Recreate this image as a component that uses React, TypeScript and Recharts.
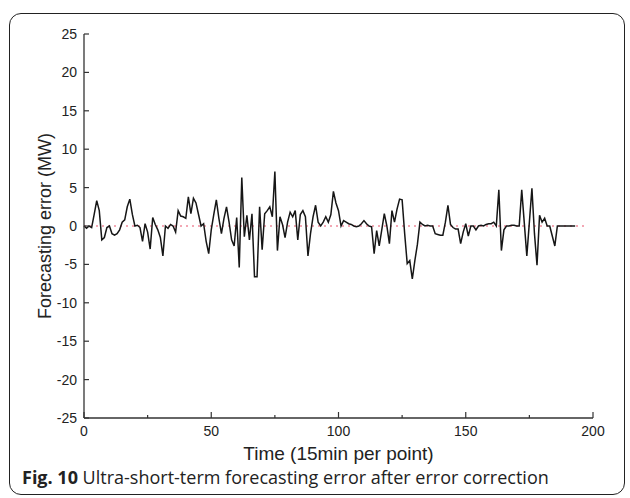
import React from "react";
import {
  LineChart,
  Line,
  XAxis,
  YAxis,
  ReferenceLine,
} from "recharts";

// forecasting error per 15-min point (MW)
const ERRORS = [
  0, -0.3, 0, -0.2, 1.5, 3.3, 2.0, -1.8, -1.5, -0.2,
  0, -1.0, -1.2, -1.0, -0.5, 0.5, 0.8, 2.5, 3.5, 1.5,
  0, 0.1, -0.2, -2.0, 0.3, -0.8, -3.0, 1.1, 0.2, -0.5,
  -1.5, -3.9, 0, -0.3, 0.2, 0, -0.8, 2.0, 1.3, 1.2,
  1.0, 3.8, 1.6, 3.6, 3.0, 1.5, 0, 0.3, -2.0, -3.6,
  -0.5, 1.5, 3.4, 1.0, -1.0, 1.0, 2.5, 0.5, -1.8, -2.6,
  1.1, -5.4, 6.3, -1.4, 1.4, -1.8, 1.6, -6.6, -6.6, 2.5,
  -3.1, 1.6, 2.0, 2.5, 1.2, 7.1, -3.2, 1.2, 0.2, -1.5,
  0.5, 1.8, 1.2, 2.0, -1.8, 1.5, 2.0, 1.2, -3.9, -1.0,
  1.2, 2.7, 0.5, 0, 0.5, 1.2, 0.5, 1.5, 4.5, 3.0,
  2.0, 0, 0.7, 0.5, 0.3, 0.2, 0, -0.1, 0, 0.3,
  0.7, 0.3, 0, -0.1, -3.6, -0.6, -2.6, -0.5, 1.6, 0,
  -2.3, 2.0, 0.5, 2.2, 3.5, 3.4, -1.0, -4.9, -4.5, -6.9,
  -4.5, -2.4, 0.5, 0.2, 0, 0.1, 0, 0, -1.0, -1.1,
  -1.2, -1.2, 0.5, 2.7, 0.2, -0.2, -0.4, -0.4, -2.3, -0.8,
  0.3, -1.3, 0, 0, -0.5, 0, 0.1, 0, 0.2, 0.3,
  0.3, 0.5, 0, 4.7, -3.2, -0.5, 0, 0, 0.1, 0.1,
  0, 0, 4.7, 0.4, -3.9, 0.5, 4.9, -1.0, -5.1, 1.4,
  0.5, 1.0, 0, 0, -1.3, -2.6, 0, 0, 0, 0,
  0, 0, 0, 0,
];

const X_TICKS = [0, 25, 50, 75, 100, 125, 150, 175, 200];
const Y_TICKS = [-25, -20, -15, -10, -5, 0, 5, 10, 15, 20, 25];
const ZERO_LINE_END = 197;

const data = ERRORS.map((v, i) => ({ t: i, err: v }));

const AXIS = "#333";
const TEXT = "#222";
const FONT = "'Liberation Sans', Arial, sans-serif";

function BottomTick(props: any) {
  const { x, y, payload } = props;
  const major = payload.value % 50 === 0;
  return (
    <g>
      <line x1={x} x2={x} y1={y} y2={y - (major ? 6 : 3)} stroke={AXIS} strokeWidth={1.2} />
      {major && (
        <text x={x} y={y + 18} textAnchor="middle" fontSize={14} fill={TEXT} fontFamily={FONT}>
          {payload.value}
        </text>
      )}
    </g>
  );
}

function TopTick(props: any) {
  const { x, y, payload } = props;
  const major = payload.value % 50 === 0;
  return <line x1={x} x2={x} y1={y} y2={y + (major ? 6 : 3)} stroke={AXIS} strokeWidth={1.2} />;
}

function LeftTick(props: any) {
  const { x, y, payload } = props;
  return (
    <g>
      <line x1={x} x2={x + 5} y1={y} y2={y} stroke={AXIS} strokeWidth={1.2} />
      <text x={x - 7} y={y + 5} textAnchor="end" fontSize={14} fill={TEXT} fontFamily={FONT}>
        {payload.value}
      </text>
    </g>
  );
}

function RightTick(props: any) {
  const { x, y } = props;
  return <line x1={x} x2={x - 5} y1={y} y2={y} stroke={AXIS} strokeWidth={1.2} />;
}

export default function App() {
  return (
    <div
      style={{
        position: "absolute",
        left: 0,
        top: 0,
        width: 630,
        height: 498,
        background: "#fff",
        overflow: "hidden",
      }}
    >
      <div
        style={{
          position: "absolute",
          left: 9,
          top: 13,
          width: 614,
          height: 480,
          border: "1.5px solid #222",
          borderRadius: 12,
        }}
      />
      <div style={{ position: "absolute", left: 0, top: 0 }}>
        <LineChart
          width={630}
          height={498}
          data={data}
          margin={{ top: 34, right: 37, bottom: 30, left: 24 }}
        >
          <XAxis
            xAxisId="bottom"
            dataKey="t"
            type="number"
            domain={[0, 200]}
            ticks={X_TICKS}
            interval={0}
            height={50}
            tickSize={0}
            tickMargin={0}
            tickLine={false}
            tick={<BottomTick />}
            axisLine={{ stroke: AXIS, strokeWidth: 1.3 }}
            label={{
              value: "Time (15min per point)",
              position: "insideBottom",
              offset: 8,
              style: { fontSize: 19, fill: TEXT, fontFamily: FONT },
            }}
          />
          <XAxis
            xAxisId="top"
            orientation="top"
            dataKey="t"
            type="number"
            domain={[0, 200]}
            ticks={X_TICKS}
            interval={0}
            height={0}
            tickSize={0}
            tickMargin={0}
            tickLine={false}
            tick={<TopTick />}
            axisLine={{ stroke: AXIS, strokeWidth: 1.3 }}
          />
          <YAxis
            yAxisId="left"
            type="number"
            domain={[-25, 25]}
            ticks={Y_TICKS}
            interval={0}
            width={60}
            tickSize={0}
            tickMargin={0}
            tickLine={false}
            tick={<LeftTick />}
            axisLine={{ stroke: AXIS, strokeWidth: 1.3 }}
            label={{
              value: "Forecasting error (MW)",
              angle: -90,
              position: "insideLeft",
              offset: 21,
              style: { fontSize: 18, fill: TEXT, fontFamily: FONT, textAnchor: "middle" },
            }}
          />
          <YAxis
            yAxisId="right"
            orientation="right"
            type="number"
            domain={[-25, 25]}
            ticks={Y_TICKS}
            interval={0}
            width={0}
            tickSize={0}
            tickMargin={0}
            tickLine={false}
            tick={<RightTick />}
            axisLine={{ stroke: AXIS, strokeWidth: 1.3 }}
          />
          <ReferenceLine
            xAxisId="bottom"
            yAxisId="left"
            segment={[
              { x: 0, y: 0 },
              { x: ZERO_LINE_END, y: 0 },
            ]}
            stroke="#e8506a"
            strokeWidth={1.2}
            strokeDasharray="2 4"
          />
          <Line
            xAxisId="bottom"
            yAxisId="left"
            dataKey="err"
            type="linear"
            stroke="#161616"
            strokeWidth={1.5}
            dot={false}
            isAnimationActive={false}
          />
        </LineChart>
      </div>
      <div
        style={{
          position: "absolute",
          left: 22,
          top: 465,
          fontFamily: "'Open Sans', 'Noto Sans', sans-serif",
          fontSize: 18,
          lineHeight: "24px",
          color: "#222",
          whiteSpace: "nowrap",
        }}
      >
        <b>Fig. 10</b> Ultra-short-term forecasting error after error correction
      </div>
    </div>
  );
}
